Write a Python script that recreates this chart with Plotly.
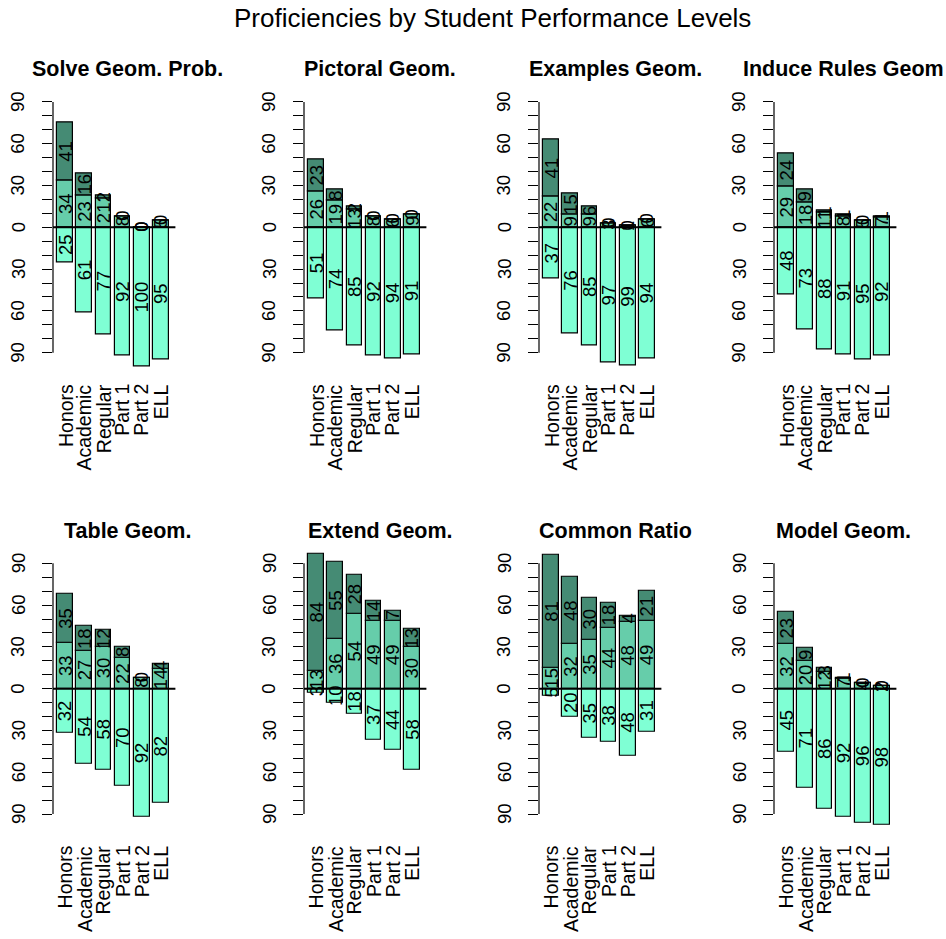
import plotly.graph_objects as go

# ---- data -------------------------------------------------------------
categories = ["Honors", "Academic", "Regular", "Part 1", "Part 2", "ELL"]
skills = ["Solve Geom. Prob.", "Pictoral Geom.", "Examples Geom.", "Induce Rules Geom",
          "Table Geom.", "Extend Geom.", "Common Ratio", "Model Geom."]

# percent of students at each level (below the line / middle / top)
not_proficient = [
    [25, 61, 77, 92, 100, 95],
    [51, 74, 85, 92, 94, 91],
    [37, 76, 85, 97, 99, 94],
    [48, 73, 88, 91, 95, 92],
    [32, 54, 58, 70, 92, 82],
    [3, 10, 18, 37, 44, 58],
    [5, 20, 35, 38, 48, 31],
    [45, 71, 86, 92, 96, 98],
]
partially_proficient = [
    [34, 23, 21, 8, 0, 5],
    [26, 19, 13, 8, 6, 9],
    [22, 9, 9, 3, 1, 6],
    [29, 18, 11, 8, 5, 7],
    [33, 27, 30, 22, 8, 14],
    [13, 36, 54, 49, 49, 30],
    [15, 32, 35, 44, 48, 49],
    [32, 20, 12, 7, 4, 2],
]
proficient = [
    [41, 16, 2, 0, 0, 0],
    [23, 8, 2, 0, 0, 0],
    [41, 15, 6, 0, 0, 0],
    [24, 9, 1, 1, 0, 1],
    [35, 18, 12, 8, 0, 4],
    [84, 55, 28, 14, 7, 13],
    [81, 48, 30, 18, 4, 21],
    [23, 9, 3, 1, 0, 0],
]
tick_values = [-90, -60, -30, 0, 30, 60, 90]
main_title = "Proficiencies by Student Performance Levels"

# ---- styling ----------------------------------------------------------
W, H = 946, 939
FONT = "Liberation Sans"
COL_LOW, COL_MID, COL_HIGH = "#7FFFD4", "#66CDAA", "#458B74"
panel_left_px = [53, 304, 539, 774]
panel_w_px = 120
row_zero_px = [227.3, 688.7]
px_per_unit = 1.393
y_lim = 104
x_lim = [-0.08, 7.48]
title_center_px = [127, 380, 615, 843]
bar_x = [0.7 + 1.2 * i for i in range(len(categories))]

fig = go.Figure()
annotations = []
shapes = []

for k, skill in enumerate(skills):
    row, col = divmod(k, 4)
    ax = "" if k == 0 else str(k + 1)
    xname, yname = "x" + ax, "y" + ax

    x0 = panel_left_px[col] / W
    x1 = (panel_left_px[col] + panel_w_px) / W
    top_px = row_zero_px[row] - y_lim * px_per_unit
    bot_px = row_zero_px[row] + y_lim * px_per_unit
    y0 = 1 - bot_px / H
    y1 = 1 - top_px / H

    low = [-v for v in not_proficient[k]]
    mid = partially_proficient[k]
    high = proficient[k]
    for vals, colr in ((low, COL_LOW), (mid, COL_MID), (high, COL_HIGH)):
        fig.add_trace(go.Bar(
            x=bar_x, y=vals, width=1.0, xaxis=xname, yaxis=yname,
            marker=dict(color=colr, line=dict(color="black", width=1.2)),
            showlegend=False, hoverinfo="skip",
        ))

    fig.layout["xaxis" + ax] = dict(
        domain=[x0, x1], range=x_lim, anchor=yname, showgrid=False,
        zeroline=False, showline=False, showticklabels=False, ticks="",
        fixedrange=True,
    )
    fig.layout["yaxis" + ax] = dict(
        domain=[y0, y1], range=[-y_lim, y_lim], anchor=xname, showgrid=False,
        zeroline=False, showline=False, showticklabels=False,
        ticks="outside", ticklen=10, tickwidth=1.2, tickcolor="black",
        tickvals=list(range(-90, 91, 10)), fixedrange=True,
    )

    # axis line spanning the tick range, and the zero reference line
    shapes.append(dict(type="line", xref=xname + " domain", yref=yname,
                       x0=0, x1=0, y0=-90, y1=90,
                       line=dict(color="black", width=1.2)))
    shapes.append(dict(type="line", xref=xname + " domain", yref=yname,
                       x0=0, x1=1.02, y0=0, y1=0, layer="above",
                       line=dict(color="black", width=2)))

    # y tick labels (absolute values on both sides)
    for tv in tick_values:
        annotations.append(dict(
            xref=xname + " domain", yref=yname, x=0, y=tv, xshift=-35,
            text=str(abs(tv)), showarrow=False, textangle=-90,
            xanchor="center", yanchor="middle",
            font=dict(family=FONT, size=18.5, color="black"),
        ))

    # category labels under each bar
    for xi, cat in zip(bar_x, categories):
        annotations.append(dict(
            xref=xname, yref=yname + " domain", x=xi, y=0, yshift=-10,
            text=cat, showarrow=False, textangle=-90,
            xanchor="center", yanchor="top",
            font=dict(family=FONT, size=19.5, color="black"),
        ))

    # value labels in the middle of each segment
    for i, xi in enumerate(bar_x):
        n, m, h = not_proficient[k][i], mid[i], high[i]
        for val, centre in ((n, -n / 2), (m, m / 2), (h, m + h / 2)):
            annotations.append(dict(
                xref=xname, yref=yname, x=xi, y=centre,
                text=str(val), showarrow=False, textangle=-90,
                xanchor="center", yanchor="middle",
                font=dict(family=FONT, size=18.5, color="black"),
            ))

    # panel title
    annotations.append(dict(
        xref="paper", yref="paper", x=title_center_px[col] / W,
        y=1 - (top_px - 13) / H, text="<b>" + skill + "</b>",
        showarrow=False, xanchor="center", yanchor="middle",
        font=dict(family=FONT, size=21.5, color="black"),
    ))

annotations.append(dict(
    xref="paper", yref="paper", x=492 / W, y=1 - 18 / H, text=main_title,
    showarrow=False, xanchor="center", yanchor="middle",
    font=dict(family=FONT, size=26, color="black"),
))

fig.update_layout(
    width=W, height=H, margin=dict(l=0, r=0, t=0, b=0),
    paper_bgcolor="white", plot_bgcolor="white",
    barmode="relative", bargap=0,
    annotations=annotations, shapes=shapes,
)

fig.write_html("out.html")
